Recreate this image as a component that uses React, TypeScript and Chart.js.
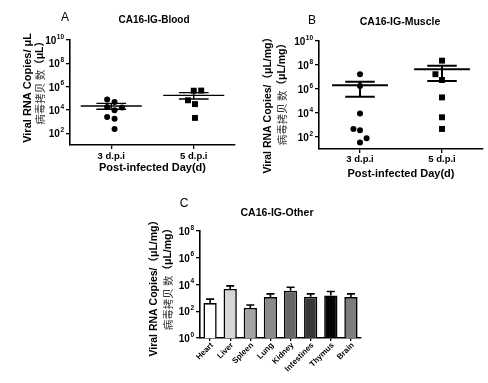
import React, { useEffect, useRef } from "react";
import { Chart, registerables } from "chart.js";
Chart.register(...registerables);

const FONT = '"Liberation Sans", Arial, Helvetica, sans-serif';
const CJK = '"Noto Sans CJK SC", "Noto Sans CJK TC", sans-serif';

// ---------- Panel A: CA16-IG-Blood ----------
const dayLabels = ["3 d.p.i", "5 d.p.i"];
const blood3X = [0.95, 1.04, 0.95, 1.13, 1.04, 0.95, 1.04, 1.04];
const blood3Y = [81000, 48000, 18000, 16000, 9300, 2500, 1800, 230];
const blood5X = [2.0, 2.09, 1.93, 2.015, 2.015];
const blood5Y = [450000, 460000, 68000, 32000, 2100];
const bloodMean = [22000, 180000];
const bloodErrHigh = [37000, 310000];
const bloodErrLow = [11500, 87000];

// ---------- Panel B: CA16-IG-Muscle ----------
const muscle3X = [1.0, 1.0, 1.0, 0.92, 1.0, 1.08, 1.0];
const muscle3Y = [17000000, 1800000, 9300, 470, 360, 78, 34];
const muscle5X = [2.0, 1.92, 2.0, 2.0, 2.0, 2.0];
const muscle5Y = [230000000, 17000000, 5600000, 200000, 4400, 470];
const muscleMean = [2100000, 44000000];
const muscleErrHigh = [4100000, 87000000];
const muscleErrLow = [230000, 4700000];

// ---------- Panel C: CA16-IG-Other ----------
const organs = ["Heart", "Liver", "Spleen", "Lung", "Kidney", "Intestines", "Thymus", "Brain"];
const organMean = [410, 4600, 175, 1150, 3400, 1200, 1500, 1150];
const organSem = [400, 3300, 115, 850, 2900, 800, 1500, 850];
const organColors = ["#ffffff", "#d6d6d6", "#a3a3a3", "#8a8a8a", "#666666", "#383838", "#050505", "#7d7d7d"];

const dayTicks = [1e2, 1e4, 1e6, 1e8, 1e10];
const organTicks = [1, 1e2, 1e4, 1e6, 1e8];

type Part = { text: string; font: string; color: string };
type YLine = { parts: Part[]; x: number; top: number };
interface DecorCfg {
  letter: string; letterX: number; letterY: number; letterFont: string;
  title: string; titleX: number; titleY: number; titleFont: string;
  xTitle?: string; xTitleY?: number; xTitleFont?: string;
  tickFont: string; expFont: string; tickGap: number;
  xLabels: string[]; xLabelValues: number[]; xLabelY: number; xLabelFont: string; rotate: boolean;
  yLines: YLine[];
}

function makeDecor(cfg: DecorCfg) {
  return {
    id: "decor",
    afterDraw(chart: any) {
      const ctx: CanvasRenderingContext2D = chart.ctx;
      const area = chart.chartArea;
      ctx.save();
      ctx.fillStyle = "#000";
      ctx.textAlign = "center";
      ctx.textBaseline = "middle";
      ctx.font = cfg.letterFont;
      ctx.fillText(cfg.letter, cfg.letterX, cfg.letterY);
      ctx.font = cfg.titleFont;
      ctx.fillText(cfg.title, cfg.titleX, cfg.titleY);
      if (cfg.xTitle) {
        ctx.font = cfg.xTitleFont!;
        ctx.fillText(cfg.xTitle, (area.left + area.right) / 2, cfg.xTitleY!);
      }
      // y tick labels 10^n
      const ys = chart.scales.y;
      for (const t of ys.ticks) {
        const py = ys.getPixelForValue(t.value);
        const exp = String(Math.round(Math.log10(t.value)));
        ctx.font = cfg.expFont;
        const ew = ctx.measureText(exp).width;
        const right = area.left - cfg.tickGap;
        ctx.textAlign = "left";
        ctx.textBaseline = "alphabetic";
        ctx.fillText(exp, right - ew, py - 1.5);
        ctx.font = cfg.tickFont;
        ctx.textAlign = "right";
        ctx.fillText("10", right - ew - 0.5, py + 4);
      }
      // x tick labels
      const xs = chart.scales.x;
      ctx.font = cfg.xLabelFont;
      cfg.xLabels.forEach((lab, i) => {
        const px = xs.getPixelForValue(cfg.xLabelValues[i]);
        if (cfg.rotate) {
          ctx.save();
          ctx.translate(px + 2, cfg.xLabelY);
          ctx.rotate(-Math.PI / 4);
          ctx.textAlign = "right";
          ctx.textBaseline = "middle";
          ctx.fillText(lab, 0, 0);
          ctx.restore();
        } else {
          ctx.textAlign = "center";
          ctx.textBaseline = "middle";
          ctx.fillText(lab, px, cfg.xLabelY);
        }
      });
      // y-axis titles (rotated)
      for (const line of cfg.yLines) {
        let total = 0;
        for (const p of line.parts) {
          ctx.font = p.font;
          total += ctx.measureText(p.text).width;
        }
        ctx.save();
        ctx.translate(line.x, line.top + total);
        ctx.rotate(-Math.PI / 2);
        ctx.textAlign = "left";
        ctx.textBaseline = "middle";
        let cx = 0;
        for (const p of line.parts) {
          ctx.font = p.font;
          ctx.fillStyle = p.color;
          ctx.fillText(p.text, cx, 0);
          cx += ctx.measureText(p.text).width;
        }
        ctx.restore();
      }
      ctx.restore();
    },
  };
}

function makeMeanPlugin(means: number[], high: number[], low: number[], halfW: number, capW: number, lw: number) {
  return {
    id: "meanSem",
    afterDatasetsDraw(chart: any) {
      const { ctx } = chart;
      const x = chart.scales.x;
      const y = chart.scales.y;
      ctx.save();
      ctx.strokeStyle = "#000";
      ctx.lineWidth = lw;
      means.forEach((m: number, i: number) => {
        const c = i + 1;
        const py = y.getPixelForValue(m);
        const ph = y.getPixelForValue(high[i]);
        const pl = y.getPixelForValue(low[i]);
        const cx = x.getPixelForValue(c);
        ctx.beginPath();
        ctx.moveTo(x.getPixelForValue(c - halfW), py);
        ctx.lineTo(x.getPixelForValue(c + halfW), py);
        ctx.moveTo(cx, ph);
        ctx.lineTo(cx, pl);
        ctx.moveTo(x.getPixelForValue(c - capW), ph);
        ctx.lineTo(x.getPixelForValue(c + capW), ph);
        ctx.moveTo(x.getPixelForValue(c - capW), pl);
        ctx.lineTo(x.getPixelForValue(c + capW), pl);
        ctx.stroke();
      });
      ctx.restore();
    },
  };
}

const barErrPlugin = {
  id: "barErr",
  afterDatasetsDraw(chart: any) {
    const { ctx } = chart;
    const y = chart.scales.y;
    const meta = chart.getDatasetMeta(0);
    ctx.save();
    ctx.strokeStyle = "#000";
    ctx.lineWidth = 1.6;
    meta.data.forEach((bar: any, i: number) => {
      const top = y.getPixelForValue(organMean[i] + organSem[i]);
      ctx.beginPath();
      ctx.moveTo(bar.x, bar.y);
      ctx.lineTo(bar.x, top);
      ctx.moveTo(bar.x - 4, top);
      ctx.lineTo(bar.x + 4, top);
      ctx.stroke();
    });
    ctx.restore();
  },
};

const axisGrid = (len: number) => ({
  display: true,
  drawOnChartArea: false,
  drawTicks: true,
  tickLength: len,
  color: "#000",
  lineWidth: 1.3,
  offset: false,
});
const axisBorder = { display: true, color: "#000", width: 1.6 };

function scatterConfig(opts: {
  c3x: number[]; c3y: number[]; c5x: number[]; c5y: number[];
  mean: number[]; hi: number[]; lo: number[];
  halfW: number; capW: number; lw: number;
  padTop: number; padRight: number; yWidth: number; xHeight: number;
  decor: DecorCfg;
}) {
  return {
    type: "scatter" as const,
    data: {
      datasets: [
        {
          data: opts.c3x.map((x, i) => ({ x, y: opts.c3y[i] })),
          pointStyle: "circle",
          pointRadius: 3,
          backgroundColor: "#000",
          borderColor: "#000",
          borderWidth: 0,
        },
        {
          data: opts.c5x.map((x, i) => ({ x, y: opts.c5y[i] })),
          pointStyle: "rect",
          pointRadius: 4.2,
          backgroundColor: "#000",
          borderColor: "#000",
          borderWidth: 0,
        },
      ],
    },
    options: {
      responsive: false,
      animation: false,
      devicePixelRatio: 1,
      layout: { padding: { top: opts.padTop, right: opts.padRight, left: 0, bottom: 0 } },
      plugins: { legend: { display: false }, tooltip: { enabled: false }, title: { display: false } },
      scales: {
        x: {
          type: "linear",
          min: 0.5,
          max: 2.5,
          ticks: { display: false },
          grid: axisGrid(4),
          border: axisBorder,
          afterBuildTicks: (s: any) => { s.ticks = [{ value: 1 }, { value: 2 }]; },
          afterFit: (s: any) => { s.height = opts.xHeight; },
        },
        y: {
          type: "logarithmic",
          min: 10,
          max: 1e10,
          ticks: { display: false },
          grid: axisGrid(4),
          border: axisBorder,
          afterBuildTicks: (s: any) => { s.ticks = dayTicks.map((v) => ({ value: v })); },
          afterFit: (s: any) => { s.width = opts.yWidth; },
        },
      },
    },
    plugins: [makeMeanPlugin(opts.mean, opts.hi, opts.lo, opts.halfW, opts.capW, opts.lw), makeDecor(opts.decor)],
  };
}

function barConfig(decor: DecorCfg) {
  return {
    type: "bar" as const,
    data: {
      labels: organs,
      datasets: [
        {
          data: organMean,
          backgroundColor: organColors,
          borderColor: "#000",
          borderWidth: 1.6,
          barPercentage: 0.66,
          categoryPercentage: 1,
        },
      ],
    },
    options: {
      responsive: false,
      animation: false,
      devicePixelRatio: 1,
      layout: { padding: { top: 41, right: 19, left: 0, bottom: 0 } },
      plugins: { legend: { display: false }, tooltip: { enabled: false }, title: { display: false } },
      scales: {
        x: {
          type: "category",
          offset: true,
          ticks: { display: false },
          grid: axisGrid(3),
          border: axisBorder,
          afterFit: (s: any) => { s.height = 45; },
        },
        y: {
          type: "logarithmic",
          min: 1,
          max: 1e8,
          ticks: { display: false },
          grid: axisGrid(4),
          border: axisBorder,
          afterBuildTicks: (s: any) => { s.ticks = organTicks.map((v) => ({ value: v })); },
          afterFit: (s: any) => { s.width = 80; },
        },
      },
    },
    plugins: [barErrPlugin, makeDecor(decor)],
  };
}

function Panel({ make, left, top, width, height }: { make: () => any; left: number; top: number; width: number; height: number }) {
  const ref = useRef<HTMLCanvasElement>(null);
  useEffect(() => {
    const chart = new Chart(ref.current as HTMLCanvasElement, make());
    return () => chart.destroy();
  }, []);
  return (
    <canvas
      ref={ref}
      width={width}
      height={height}
      style={{ position: "absolute", left, top, width, height }}
    />
  );
}

const bold = (px: number) => `bold ${px}px ${FONT}`;
const cjk = (px: number) => `${px}px ${CJK}`;

export default function App() {
  const decorA: DecorCfg = {
    letter: "A", letterX: 65, letterY: 18, letterFont: `12px ${FONT}`,
    title: "CA16-IG-Blood", titleX: 154, titleY: 20, titleFont: bold(10),
    xTitle: "Post-infected Day(d)", xTitleY: 168, xTitleFont: bold(11),
    tickFont: bold(10), expFont: bold(6.5), tickGap: 6,
    xLabels: dayLabels, xLabelValues: [1, 2], xLabelY: 156, xLabelFont: bold(9.5), rotate: false,
    yLines: [
      { x: 28, top: 33, parts: [{ text: "Viral RNA Copies/ μL", font: bold(11), color: "#000" }] },
      {
        x: 40, top: 36, parts: [
          { text: "病毒拷贝 数", font: cjk(10.5), color: "#333" },
          { text: "（μL）", font: `bold 10.5px ${FONT}, ${CJK}`, color: "#000" },
        ],
      },
    ],
  };
  const decorB: DecorCfg = {
    letter: "B", letterX: 68, letterY: 21, letterFont: `12px ${FONT}`,
    title: "CA16-IG-Muscle", titleX: 156, titleY: 22, titleFont: bold(10.5),
    xTitle: "Post-infected Day(d)", xTitleY: 174, xTitleFont: bold(11),
    tickFont: bold(10), expFont: bold(6.5), tickGap: 6,
    xLabels: dayLabels, xLabelValues: [1, 2], xLabelY: 159, xLabelFont: bold(9.5), rotate: false,
    yLines: [
      { x: 24, top: 32, parts: [{ text: "Viral RNA Copies/（μL/mg）", font: `bold 10.5px ${FONT}, ${CJK}`, color: "#000" }] },
      {
        x: 38, top: 38, parts: [
          { text: "病毒拷贝 数", font: cjk(10.5), color: "#333" },
          { text: "（μL/mg）", font: `bold 10.5px ${FONT}, ${CJK}`, color: "#000" },
        ],
      },
    ],
  };
  const decorC: DecorCfg = {
    letter: "C", letterX: 64, letterY: 14, letterFont: `12px ${FONT}`,
    title: "CA16-IG-Other", titleX: 157, titleY: 23, titleFont: bold(10.5),
    tickFont: bold(10), expFont: bold(6.5), tickGap: 6,
    xLabels: organs, xLabelValues: organs.map((_, i) => i), xLabelY: 154, xLabelFont: bold(8), rotate: true,
    yLines: [
      { x: 34, top: 25, parts: [{ text: "Viral RNA Copies/（μL/mg）", font: `bold 10.5px ${FONT}, ${CJK}`, color: "#000" }] },
      {
        x: 48, top: 33, parts: [
          { text: "病毒拷贝 数", font: cjk(10.5), color: "#333" },
          { text: "（μL/mg）", font: `bold 10.5px ${FONT}, ${CJK}`, color: "#000" },
        ],
      },
    ],
  };

  return (
    <div style={{ position: "absolute", left: 0, top: 0, width: 488, height: 383, background: "#fff", overflow: "hidden" }}>
      <Panel
        left={0} top={0} width={244} height={185}
        make={() => scatterConfig({
          c3x: blood3X, c3y: blood3Y, c5x: blood5X, c5y: blood5Y,
          mean: bloodMean, hi: bloodErrHigh, lo: bloodErrLow,
          halfW: 0.37, capW: 0.18, lw: 1.4,
          padTop: 40, padRight: 9, yWidth: 70, xHeight: 40,
          decor: decorA,
        })}
      />
      <Panel
        left={244} top={0} width={244} height={185}
        make={() => scatterConfig({
          c3x: muscle3X, c3y: muscle3Y, c5x: muscle5X, c5y: muscle5Y,
          mean: muscleMean, hi: muscleErrHigh, lo: muscleErrLow,
          halfW: 0.34, capW: 0.18, lw: 2,
          padTop: 41, padRight: 5, yWidth: 75, xHeight: 36,
          decor: decorB,
        })}
      />
      <Panel left={120} top={190} width={260} height={193} make={() => barConfig(decorC)} />
    </div>
  );
}
